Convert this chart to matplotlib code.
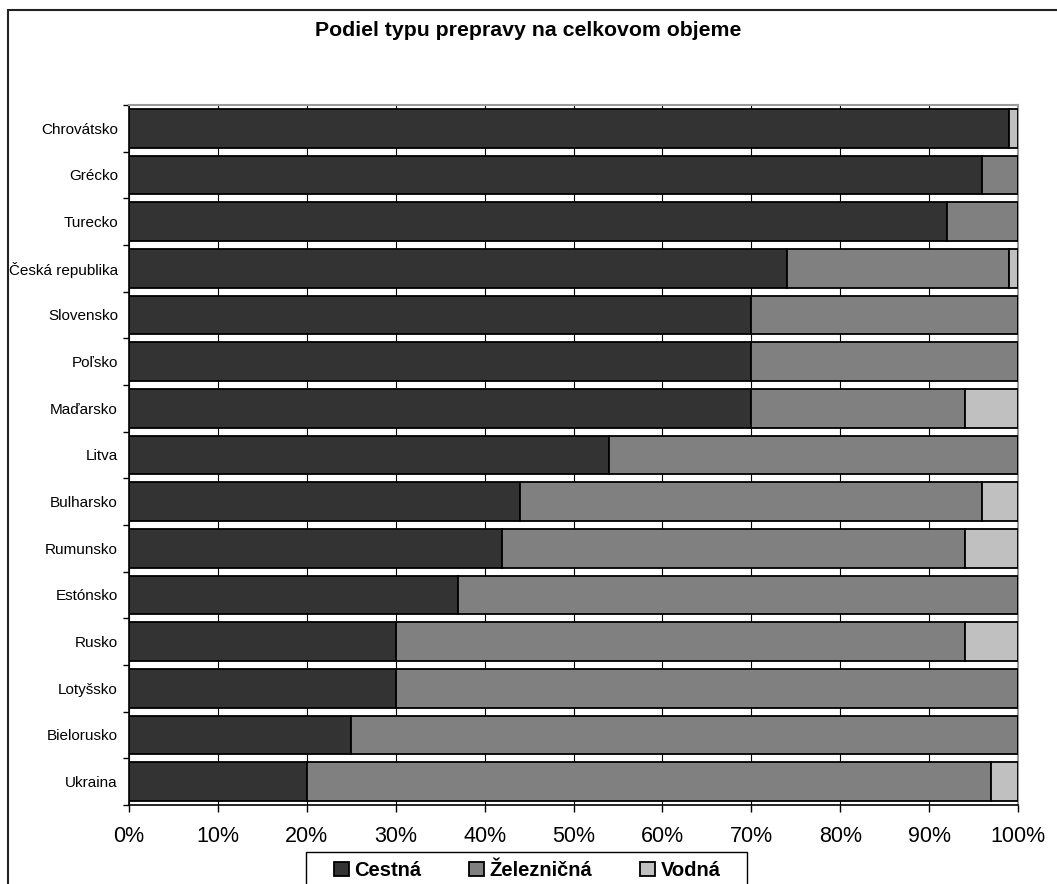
import matplotlib
matplotlib.use("Agg")
import matplotlib.pyplot as plt
from matplotlib.patches import Rectangle
from matplotlib.ticker import MultipleLocator, PercentFormatter

plt.rcParams['font.family'] = ['Liberation Sans', 'DejaVu Sans']

countries = ["Chrovátsko", "Grécko", "Turecko", "Česká republika", "Slovensko",
             "Poľsko", "Maďarsko", "Litva", "Bulharsko", "Rumunsko",
             "Estónsko", "Rusko", "Lotyšsko", "Bielorusko", "Ukraina"]
cestna = [99, 96, 92, 74, 70, 70, 70, 54, 44, 42, 37, 30, 30, 25, 20]
zeleznicna = [0, 4, 8, 25, 30, 30, 24, 46, 52, 52, 63, 64, 70, 75, 77]
vodna = [1, 0, 0, 1, 0, 0, 6, 0, 4, 6, 0, 6, 0, 0, 3]

series = [("Cestná", cestna, "#333333"),
          ("Železničná", zeleznicna, "#808080"),
          ("Vodná", vodna, "#c0c0c0")]

W, H = 1057, 884
fig = plt.figure(figsize=(W / 100, H / 100), dpi=100)
ax = fig.add_axes([129 / W, 1 - 805 / H, (1018 - 129) / W, (805 - 105) / H])

ypos = list(range(len(countries)))
totals = [a + b + c for a, b, c in zip(cestna, zeleznicna, vodna)]
left = [0] * len(countries)
handles = []
for name, vals, col in series:
    widths = [v / t * 100 for v, t in zip(vals, totals)]
    h = ax.barh(ypos, widths, left=left, height=0.835, color=col,
                edgecolor="black", linewidth=1.3, label=name, zorder=3)
    handles.append(h)
    left = [l + w for l, w in zip(left, widths)]

ax.set_xlim(0, 100)
ax.set_ylim(len(countries) - 0.5, -0.5)
ax.xaxis.set_major_locator(MultipleLocator(10))
ax.xaxis.set_major_formatter(PercentFormatter(decimals=0))
ax.grid(axis="x", color="black", linewidth=0.8, zorder=0)
ax.set_axisbelow(True)

ax.set_yticks(ypos)
ax.set_yticklabels(countries, fontsize=11)
ax.set_yticks([i + 0.5 for i in range(-1, len(countries))], minor=True)
ax.tick_params(axis="y", which="major", length=0, pad=8)
ax.tick_params(axis="y", which="minor", length=4, width=1, direction="out")
ax.tick_params(axis="x", length=5, width=1, direction="out", pad=10, labelsize=15.5)

for side in ("top", "right"):
    ax.spines[side].set_color("#999999")
    ax.spines[side].set_linewidth(1.5)
for side in ("left", "bottom"):
    ax.spines[side].set_color("black")
    ax.spines[side].set_linewidth(1.2)

fig.text(0.5, 1 - 30 / H, "Podiel typu prepravy na celkovom objeme",
         ha="center", va="center", fontsize=15.3, fontweight="bold")

# chart border
fig.patches.append(Rectangle((8 / W, -0.1), 1.2, 1 - 10 / H + 0.1,
                             transform=fig.transFigure, fill=False,
                             edgecolor="#222222", linewidth=1.5))

# legend frame
fig.patches.append(Rectangle((306 / W, -0.1), (747 - 306) / W, 1 - 852 / H + 0.1,
                             transform=fig.transFigure, fill=False,
                             edgecolor="black", linewidth=1.0))

leg = fig.legend(handles=handles, loc="upper center",
                 bbox_to_anchor=(527 / W, 1 - 861 / H), ncol=3,
                 prop={"weight": "bold", "size": 14.5},
                 handlelength=0.75, handleheight=0.75, handletextpad=0.25,
                 columnspacing=2.4, borderpad=0.0, borderaxespad=0.0,
                 frameon=False)

fig.savefig("out.png", dpi=100)
